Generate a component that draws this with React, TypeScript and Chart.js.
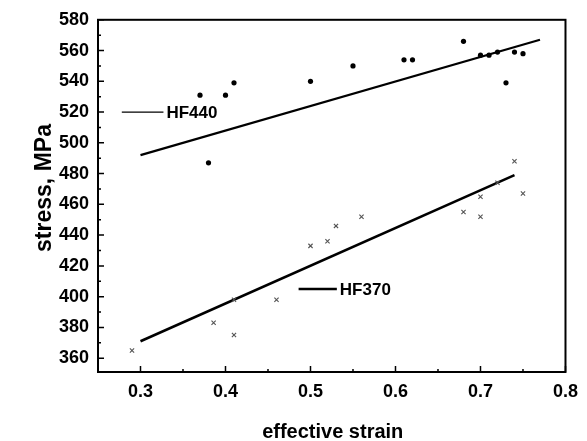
import React, { useEffect, useRef } from "react";
import { Chart, registerables } from "chart.js";

Chart.register(...registerables);

// HF440 measured points (strain, stress MPa)
const hf440X = [0.37, 0.38, 0.40, 0.41, 0.50, 0.55, 0.61, 0.62, 0.68, 0.70, 0.71, 0.72, 0.73, 0.74, 0.75];
const hf440Y = [531, 487, 531, 539, 540, 550, 554, 554, 566, 557, 557, 559, 539, 559, 558];
// HF440 fit line end points
const hf440FitX = [0.30, 0.77];
const hf440FitY = [492, 567];

// HF370 measured points
const hf370X = [0.29, 0.386, 0.41, 0.41, 0.46, 0.50, 0.52, 0.53, 0.56, 0.68, 0.70, 0.70, 0.72, 0.74, 0.75];
const hf370Y = [365, 383, 398, 375, 398, 433, 436, 446, 452, 455, 465, 452, 474, 488, 467];
// HF370 fit line end points
const hf370FitX = [0.30, 0.74];
const hf370FitY = [371, 479];

const xTicks = [0.3, 0.4, 0.5, 0.6, 0.7, 0.8];
const yTicks = [360, 380, 400, 420, 440, 460, 480, 500, 520, 540, 560, 580];
const xMinor = [0.25, 0.35, 0.45, 0.55, 0.65, 0.75];
const yMinor = [370, 390, 410, 430, 450, 470, 490, 510, 530, 550, 570];

// legend annotations: [label, x start, x end, y]
const legendLabels = ["HF440", "HF370"];
const legendX0 = [0.278, 0.486];
const legendX1 = [0.327, 0.531];
const legendY = [520, 405];
const legendWidth = [1.3, 2.6];

const xTitle = "effective strain";
const yTitle = "stress, MPa";

const FONT = "'Liberation Sans', Arial, sans-serif";

const toPts = (xs: number[], ys: number[]) => xs.map((x, i) => ({ x, y: ys[i] }));

const framePlugin = {
  id: "frame",
  afterDraw(chart: any) {
    const ctx = chart.ctx;
    const { left, right, top, bottom } = chart.chartArea;
    const xs = chart.scales.x;
    const ys = chart.scales.y;
    ctx.save();
    ctx.strokeStyle = "#000";
    ctx.lineWidth = 2;
    ctx.strokeRect(left, top, right - left, bottom - top);
    ctx.lineWidth = 1.5;
    ctx.beginPath();
    yTicks.forEach((v) => {
      const p = ys.getPixelForValue(v);
      ctx.moveTo(left, p);
      ctx.lineTo(left + 6, p);
    });
    yMinor.forEach((v) => {
      const p = ys.getPixelForValue(v);
      ctx.moveTo(left, p);
      ctx.lineTo(left + 3, p);
    });
    xTicks.forEach((v) => {
      const p = xs.getPixelForValue(v);
      ctx.moveTo(p, bottom);
      ctx.lineTo(p, bottom - 6);
    });
    xMinor.forEach((v) => {
      const p = xs.getPixelForValue(v);
      ctx.moveTo(p, bottom);
      ctx.lineTo(p, bottom - 3);
    });
    ctx.stroke();

    // legend annotations
    ctx.fillStyle = "#000";
    ctx.font = `bold 17px ${FONT}`;
    ctx.textBaseline = "middle";
    ctx.textAlign = "left";
    legendLabels.forEach((lab, i) => {
      const x0 = xs.getPixelForValue(legendX0[i]);
      const x1 = xs.getPixelForValue(legendX1[i]);
      const y = ys.getPixelForValue(legendY[i]);
      ctx.lineWidth = legendWidth[i];
      ctx.beginPath();
      ctx.moveTo(x0, y);
      ctx.lineTo(x1, y);
      ctx.stroke();
      ctx.fillText(lab, x1 + 3, y + 1);
    });

    // axis titles
    ctx.textAlign = "center";
    ctx.font = `bold 20px ${FONT}`;
    ctx.fillText(xTitle, (left + right) / 2 + 1, 432);
    ctx.font = `bold 23px ${FONT}`;
    ctx.translate(45, 188);
    ctx.rotate(-Math.PI / 2);
    ctx.fillText(yTitle, 0, 0);
    ctx.restore();
  },
};

export default function App() {
  const ref = useRef<HTMLCanvasElement>(null);
  useEffect(() => {
    if (!ref.current) return;
    const chart = new Chart(ref.current, {
      type: "scatter",
      data: {
        datasets: [
          {
            label: "HF440",
            data: toPts(hf440X, hf440Y),
            pointStyle: "circle",
            pointRadius: 2.6,
            backgroundColor: "#000",
            borderColor: "#000",
            borderWidth: 0,
          },
          {
            label: "HF440 fit",
            data: toPts(hf440FitX, hf440FitY),
            showLine: true,
            pointRadius: 0,
            borderColor: "#000",
            borderWidth: 2.2,
          },
          {
            label: "HF370",
            data: toPts(hf370X, hf370Y),
            pointStyle: "crossRot",
            pointRadius: 3,
            borderColor: "#555",
            borderWidth: 1.1,
          },
          {
            label: "HF370 fit",
            data: toPts(hf370FitX, hf370FitY),
            showLine: true,
            pointRadius: 0,
            borderColor: "#000",
            borderWidth: 2.6,
          },
        ],
      },
      options: {
        animation: false,
        responsive: true,
        maintainAspectRatio: false,
        layout: { padding: { top: 19, right: 14, left: 0, bottom: 0 } },
        plugins: { legend: { display: false }, tooltip: { enabled: false } },
        scales: {
          x: {
            type: "linear",
            min: 0.25,
            max: 0.8,
            afterBuildTicks: (s: any) => {
              s.ticks = xTicks.map((v) => ({ value: v }));
            },
            afterFit: (s: any) => {
              s.height = 69;
            },
            grid: { display: false, drawTicks: false },
            border: { display: false },
            ticks: {
              color: "#000",
              font: { family: FONT, size: 18, weight: "bold" },
              padding: 9,
              maxRotation: 0,
              callback: (v: any) => Number(v).toFixed(1),
            },
          },
          y: {
            type: "linear",
            min: 351,
            max: 580,
            afterBuildTicks: (s: any) => {
              s.ticks = yTicks.map((v) => ({ value: v }));
            },
            afterFit: (s: any) => {
              s.width = 98;
            },
            grid: { display: false, drawTicks: false },
            border: { display: false },
            ticks: {
              color: "#000",
              font: { family: FONT, size: 18, weight: "bold" },
              padding: 9,
            },
          },
        },
      },
      plugins: [framePlugin],
    });
    return () => chart.destroy();
  }, []);
  return (
    <div style={{ position: "absolute", left: 0, top: 0, width: 587, height: 441, background: "#fff" }}>
      <canvas ref={ref} />
    </div>
  );
}
